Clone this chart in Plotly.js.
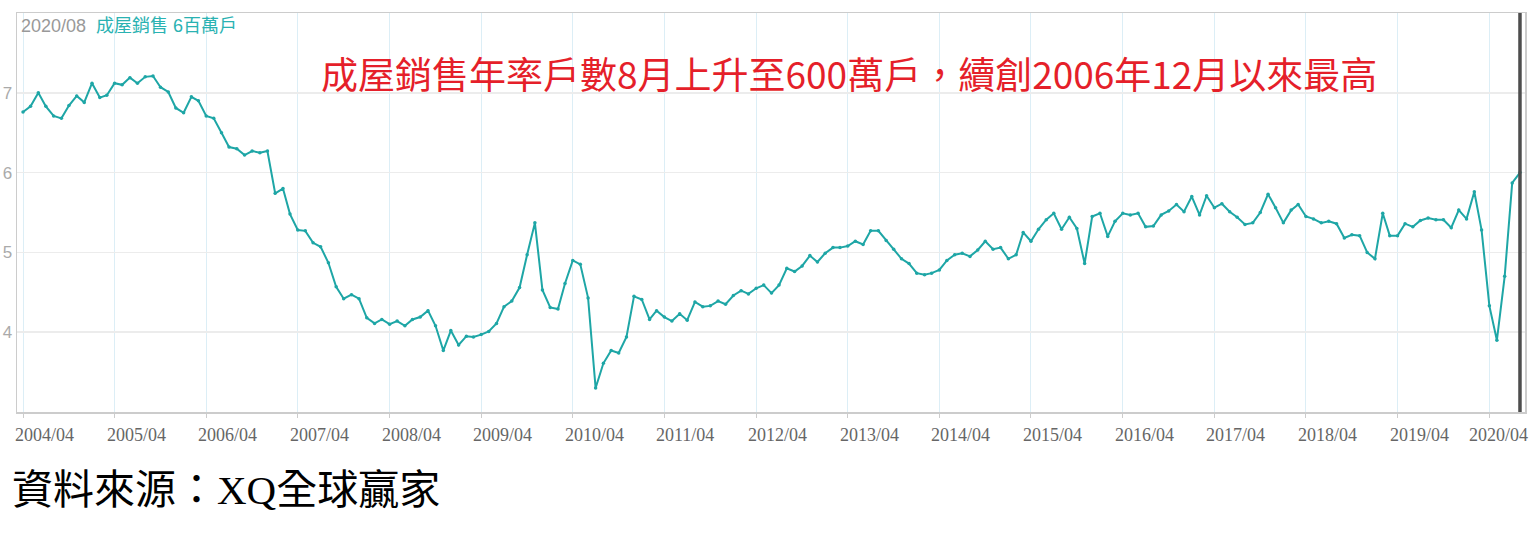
<!DOCTYPE html>
<html>
<head>
<meta charset="utf-8">
<script src="https://cdn.plot.ly/plotly-3.0.1.min.js"></script>
<style>
  html, body { margin: 0; padding: 0; background: #ffffff; }
  #chart { width: 1536px; height: 536px; }
</style>
</head>
<body>
<div id="chart"></div>
<script>
// US existing home sales, seasonally adjusted annual rate (millions of units), monthly
const sales2004 = [6.76, 6.83, 7.00, 6.83, 6.71, 6.68, 6.84, 6.96, 6.88]; // Apr–Dec
const sales2005 = [7.12, 6.94, 6.97, 7.12, 7.10, 7.19, 7.12, 7.20, 7.21, 7.07, 7.01, 6.81];
const sales2006 = [6.75, 6.95, 6.90, 6.71, 6.68, 6.50, 6.32, 6.30, 6.22, 6.27, 6.25, 6.27];
const sales2007 = [5.74, 5.80, 5.48, 5.28, 5.27, 5.12, 5.07, 4.87, 4.57, 4.42, 4.47, 4.42];
const sales2008 = [4.18, 4.11, 4.16, 4.10, 4.14, 4.08, 4.16, 4.19, 4.27, 4.08, 3.77, 4.02];
const sales2009 = [3.84, 3.95, 3.94, 3.97, 4.01, 4.11, 4.32, 4.39, 4.56, 4.97, 5.37, 4.53];
const sales2010 = [4.31, 4.29, 4.61, 4.90, 4.85, 4.43, 3.30, 3.61, 3.77, 3.74, 3.94, 4.45];
const sales2011 = [4.41, 4.16, 4.27, 4.19, 4.14, 4.23, 4.15, 4.38, 4.32, 4.33, 4.39, 4.35];
const sales2012 = [4.46, 4.52, 4.48, 4.55, 4.59, 4.49, 4.59, 4.80, 4.76, 4.83, 4.96, 4.88];
const sales2013 = [4.99, 5.06, 5.06, 5.08, 5.14, 5.10, 5.27, 5.27, 5.15, 5.04, 4.92, 4.86];
const sales2014 = [4.74, 4.72, 4.74, 4.78, 4.90, 4.97, 4.99, 4.95, 5.03, 5.14, 5.04, 5.06];
const sales2015 = [4.92, 4.97, 5.25, 5.14, 5.29, 5.41, 5.49, 5.29, 5.44, 5.30, 4.86, 5.45];
const sales2016 = [5.49, 5.20, 5.39, 5.49, 5.47, 5.49, 5.32, 5.33, 5.47, 5.52, 5.60, 5.51];
const sales2017 = [5.70, 5.47, 5.71, 5.56, 5.61, 5.51, 5.44, 5.35, 5.37, 5.50, 5.73, 5.56];
const sales2018 = [5.37, 5.53, 5.60, 5.45, 5.42, 5.37, 5.39, 5.36, 5.18, 5.22, 5.21, 5.00];
const sales2019 = [4.92, 5.49, 5.21, 5.21, 5.36, 5.32, 5.40, 5.43, 5.41, 5.41, 5.31, 5.53];
const sales2020 = [5.42, 5.76, 5.28, 4.33, 3.90, 4.70, 5.87, 6.00]; // Jan–Aug

const yearSeries = [
  [2004, 4, sales2004], [2005, 1, sales2005], [2006, 1, sales2006], [2007, 1, sales2007],
  [2008, 1, sales2008], [2009, 1, sales2009], [2010, 1, sales2010], [2011, 1, sales2011],
  [2012, 1, sales2012], [2013, 1, sales2013], [2014, 1, sales2014], [2015, 1, sales2015],
  [2016, 1, sales2016], [2017, 1, sales2017], [2018, 1, sales2018], [2019, 1, sales2019],
  [2020, 1, sales2020]
];

const tickLabels = ['2004/04','2005/04','2006/04','2007/04','2008/04','2009/04','2010/04',
  '2011/04','2012/04','2013/04','2014/04','2015/04','2016/04','2017/04','2018/04','2019/04','2020/04'];
const yTicks = [4, 5, 6, 7];

const headerDate = '2020/08';
const headerSeries = '成屋銷售 6百萬戶';
const titleText = '成屋銷售年率戶數8月上升至600萬戶，續創2006年12月以來最高';
const sourceText = '資料來源：XQ全球贏家';

// build x/y from the yearly arrays
const xDates = [];
const yVals = [];
yearSeries.forEach(function (ys) {
  const yr = ys[0], m0 = ys[1], arr = ys[2];
  arr.forEach(function (v, i) {
    const m = m0 + i;
    xDates.push(yr + '-' + (m < 10 ? '0' + m : m) + '-01');
    yVals.push(v);
  });
});
const tickVals = tickLabels.map(function (t) { return t.replace('/', '-') + '-01'; });
const lastDate = xDates[xDates.length - 1];

const teal = '#1ea6a6';

const trace = {
  x: xDates,
  y: yVals,
  type: 'scatter',
  mode: 'lines+markers',
  line: { color: teal, width: 2 },
  marker: { color: teal, size: 3.5 },
  hoverinfo: 'skip'
};

// x tick labels drawn as annotations: left-aligned just before each tick,
// the last one kept inside the page edge
const tickFont = { family: 'Liberation Serif, DejaVu Serif, serif', size: 18, color: '#666666' };
const tickAnnotations = tickLabels.map(function (lab, i) {
  const isLast = i === tickLabels.length - 1;
  return isLast ? {
    xref: 'paper', yref: 'paper', x: 1, y: -0.0576, xanchor: 'right', yanchor: 'middle',
    xshift: 5, showarrow: false, text: lab, font: tickFont
  } : {
    xref: 'x', yref: 'paper', x: tickVals[i], y: -0.0576, xanchor: 'left', yanchor: 'middle',
    xshift: -10, showarrow: false, text: lab, font: tickFont
  };
});

const layout = {
  width: 1536,
  height: 536,
  margin: { l: 17, r: 11, t: 13, b: 124 },
  paper_bgcolor: '#ffffff',
  plot_bgcolor: '#ffffff',
  showlegend: false,
  xaxis: {
    type: 'date',
    range: ['2004-03-08', '2020-08-21'],
    tickvals: tickVals,
    ticktext: tickLabels,
    showticklabels: false,
    showgrid: true,
    gridcolor: '#dceef6',
    gridwidth: 1,
    zeroline: false,
    showline: true,
    linecolor: '#cccccc',
    linewidth: 1.5,
    mirror: true,
    ticks: 'outside',
    ticklen: 4,
    tickcolor: '#cccccc'
  },
  yaxis: {
    range: [3, 8],
    tickvals: yTicks,
    ticktext: yTicks.map(String),
    showgrid: true,
    gridcolor: '#ececec',
    gridwidth: 1.5,
    zeroline: false,
    showline: true,
    linecolor: '#cccccc',
    linewidth: 1.5,
    mirror: true,
    ticks: '',
    tickfont: { family: 'Liberation Sans, Arial, sans-serif', size: 17, color: '#aaaaaa' }
  },
  shapes: [
    {
      type: 'line', xref: 'x', yref: 'paper',
      x0: lastDate, x1: lastDate, y0: 0, y1: 1,
      xshift: 2,
      line: { color: '#4d4d4d', width: 3.5 }
    }
  ],
  annotations: [
    {
      xref: 'paper', yref: 'paper', x: 0, y: 0.9674, xanchor: 'left', yanchor: 'middle',
      xshift: 2,
      showarrow: false,
      text: '<span style="color:#999999">' + headerDate + '</span>  <span style="color:#2ab2b2">' + headerSeries + '</span>',
      font: { family: 'Liberation Sans, Noto Sans CJK TC, sans-serif', size: 18 }
    },
    {
      xref: 'paper', yref: 'paper', x: 0.5517, y: 0.8496, xanchor: 'center', yanchor: 'middle',
      showarrow: false,
      text: titleText,
      font: { family: 'Noto Sans CJK TC, sans-serif', size: 37, color: '#e51f2a' }
    },
    {
      xref: 'paper', yref: 'paper', x: -0.0046, y: -0.1955, xanchor: 'left', yanchor: 'middle',
      showarrow: false,
      text: sourceText,
      font: { family: 'Liberation Serif, Noto Sans CJK TC, serif', size: 41, color: '#000000' }
    }
  ].concat(tickAnnotations)
};

Plotly.newPlot('chart', [trace], layout, { displayModeBar: false, staticPlot: true });
</script>
</body>
</html>
